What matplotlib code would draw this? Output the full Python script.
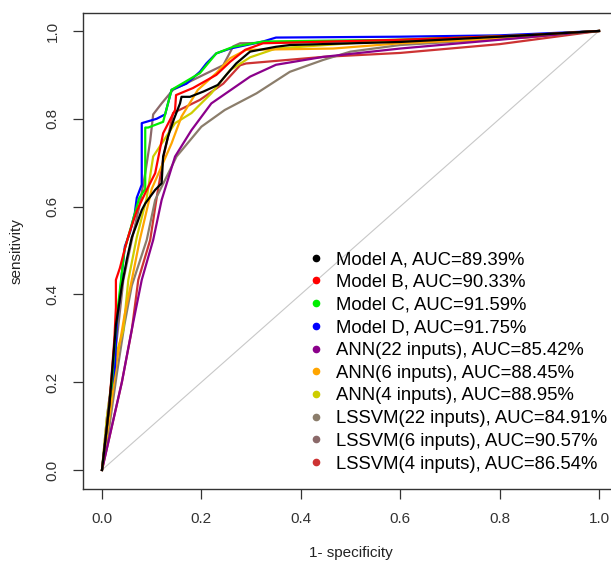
import matplotlib
matplotlib.use("Agg")
import matplotlib.pyplot as plt
from matplotlib.lines import Line2D

plt.rcParams['font.family'] = ['Liberation Sans', 'DejaVu Sans']

# ROC curves (x = 1 - specificity, y = sensitivity)
model_a_x = [0, 0.015, 0.028, 0.04, 0.05, 0.06, 0.07, 0.08, 0.087, 0.107, 0.12, 0.123, 0.133, 0.145, 0.157, 0.16, 0.177, 0.204, 0.233, 0.25, 0.27, 0.298, 0.35, 0.378, 0.6, 0.85, 1]
model_a_y = [0, 0.15, 0.33, 0.42, 0.48, 0.53, 0.56, 0.592, 0.607, 0.638, 0.653, 0.714, 0.76, 0.8, 0.835, 0.85, 0.85, 0.862, 0.877, 0.9, 0.926, 0.953, 0.964, 0.968, 0.975, 0.99, 1]

model_b_x = [0, 0.015, 0.025, 0.028, 0.028, 0.036, 0.045, 0.055, 0.07, 0.09, 0.107, 0.123, 0.147, 0.149, 0.183, 0.23, 0.258, 0.288, 0.324, 0.6, 0.85, 1]
model_b_y = [0, 0.15, 0.3, 0.37, 0.433, 0.46, 0.5, 0.54, 0.59, 0.638, 0.676, 0.767, 0.82, 0.854, 0.87, 0.9, 0.93, 0.957, 0.972, 0.98, 0.99, 1]

model_c_x = [0, 0.012, 0.02, 0.028, 0.035, 0.045, 0.055, 0.065, 0.075, 0.087, 0.087, 0.093, 0.123, 0.14, 0.197, 0.23, 0.264, 0.324, 0.6, 0.85, 1]
model_c_y = [0, 0.12, 0.2, 0.33, 0.4, 0.5, 0.54, 0.58, 0.62, 0.64, 0.78, 0.78, 0.793, 0.866, 0.904, 0.949, 0.964, 0.976, 0.98, 0.99, 1]

model_d_x = [0, 0.01, 0.016, 0.026, 0.03, 0.036, 0.04, 0.046, 0.056, 0.066, 0.07, 0.08, 0.08, 0.11, 0.127, 0.14, 0.17, 0.197, 0.21, 0.23, 0.258, 0.324, 0.35, 0.6, 0.8, 1]
model_d_y = [0, 0.1, 0.167, 0.235, 0.34, 0.395, 0.448, 0.509, 0.54, 0.585, 0.62, 0.65, 0.79, 0.8, 0.81, 0.866, 0.88, 0.907, 0.926, 0.949, 0.96, 0.976, 0.985, 0.987, 0.99, 1]

ann22_x = [0, 0.02, 0.04, 0.06, 0.08, 0.103, 0.12, 0.147, 0.18, 0.22, 0.298, 0.35, 0.445, 0.6, 0.8, 1]
ann22_y = [0, 0.1, 0.2, 0.32, 0.433, 0.524, 0.615, 0.714, 0.774, 0.835, 0.896, 0.923, 0.941, 0.96, 0.98, 1]

ann6_x = [0, 0.015, 0.03, 0.045, 0.06, 0.076, 0.1, 0.14, 0.16, 0.193, 0.23, 0.258, 0.29, 0.465, 0.6, 0.85, 1]
ann6_y = [0, 0.12, 0.25, 0.35, 0.433, 0.524, 0.64, 0.744, 0.805, 0.866, 0.904, 0.938, 0.957, 0.96, 0.972, 0.985, 1]

ann4_x = [0, 0.01, 0.025, 0.043, 0.053, 0.07, 0.09, 0.103, 0.147, 0.18, 0.22, 0.258, 0.298, 0.35, 0.6, 0.85, 1]
ann4_y = [0, 0.12, 0.25, 0.319, 0.433, 0.53, 0.62, 0.714, 0.79, 0.813, 0.858, 0.911, 0.94, 0.96, 0.98, 0.99, 1]

lssvm22_x = [0, 0.015, 0.03, 0.045, 0.06, 0.09, 0.107, 0.15, 0.2, 0.247, 0.311, 0.378, 0.445, 0.5, 0.6, 0.85, 1]
lssvm22_y = [0, 0.1, 0.22, 0.33, 0.42, 0.524, 0.615, 0.714, 0.782, 0.82, 0.858, 0.907, 0.934, 0.953, 0.968, 0.985, 1]

lssvm6_x = [0, 0.01, 0.025, 0.035, 0.043, 0.06, 0.075, 0.087, 0.097, 0.103, 0.12, 0.137, 0.143, 0.204, 0.244, 0.264, 0.278, 0.6, 0.85, 1]
lssvm6_y = [0, 0.12, 0.25, 0.35, 0.433, 0.524, 0.6, 0.676, 0.75, 0.81, 0.835, 0.858, 0.866, 0.9, 0.922, 0.965, 0.972, 0.978, 0.99, 1]

lssvm4_x = [0, 0.02, 0.04, 0.06, 0.073, 0.097, 0.11, 0.125, 0.137, 0.143, 0.197, 0.244, 0.278, 0.29, 0.445, 0.6, 0.8, 1]
lssvm4_y = [0, 0.1, 0.2, 0.319, 0.433, 0.524, 0.62, 0.72, 0.78, 0.813, 0.843, 0.88, 0.922, 0.926, 0.941, 0.95, 0.97, 1]

labels = ['Model A, AUC=89.39%', 'Model B, AUC=90.33%', 'Model C, AUC=91.59%',
          'Model D, AUC=91.75%', 'ANN(22 inputs), AUC=85.42%', 'ANN(6 inputs), AUC=88.45%',
          'ANN(4 inputs), AUC=88.95%', 'LSSVM(22 inputs), AUC=84.91%',
          'LSSVM(6 inputs), AUC=90.57%', 'LSSVM(4 inputs), AUC=86.54%']
colors = ['black', '#FF0000', '#00EE00', '#0000FF', '#8B008B', '#FFA500',
          '#CDCD00', '#8B7D6B', '#8B6969', '#CD3333']
curves = [(model_a_x, model_a_y), (model_b_x, model_b_y), (model_c_x, model_c_y),
          (model_d_x, model_d_y), (ann22_x, ann22_y), (ann6_x, ann6_y),
          (ann4_x, ann4_y), (lssvm22_x, lssvm22_y), (lssvm6_x, lssvm6_y),
          (lssvm4_x, lssvm4_y)]

fig = plt.figure(figsize=(6.11, 5.62), dpi=100)
ax = fig.add_axes([0.1352, 0.1294, 0.8777, 0.8475])

ax.plot([0, 1], [0, 1], color='#C8C8C8', lw=0.8)
# draw in reverse so Model A..D end up on top
for (x, y), c in reversed(list(zip(curves, colors))):
    ax.plot(x, y, color=c, lw=1.6)

ax.set_xlim(-0.039, 1.04)
ax.set_ylim(-0.044, 1.041)
ticks = [0.0, 0.2, 0.4, 0.6, 0.8, 1.0]
ax.set_xticks(ticks)
ax.set_yticks(ticks)
ax.set_xticklabels(['%.1f' % t for t in ticks])
ax.set_yticklabels(['%.1f' % t for t in ticks], rotation=90, va='center')
ax.tick_params(direction='out', length=7, width=0.9, colors='#333333',
               labelsize=11, pad=9.5)
for s in ax.spines.values():
    s.set_color('#333333')
    s.set_linewidth(1.0)
ax.set_xlabel('1- specificity', fontsize=11, color='#222222', labelpad=14)
ax.set_ylabel('sensitivity', fontsize=11, color='#222222', labelpad=16)

handles = [Line2D([], [], ls='', marker='o', markersize=4.5, color=c) for c in colors]
ax.legend(handles, labels, loc='upper left', bbox_to_anchor=(0.4216, 0.5),
          frameon=False, fontsize=13.3, handlelength=0.8, handletextpad=0.68,
          labelspacing=0.31, borderpad=0, borderaxespad=0)

fig.savefig('out.png', dpi=100)
